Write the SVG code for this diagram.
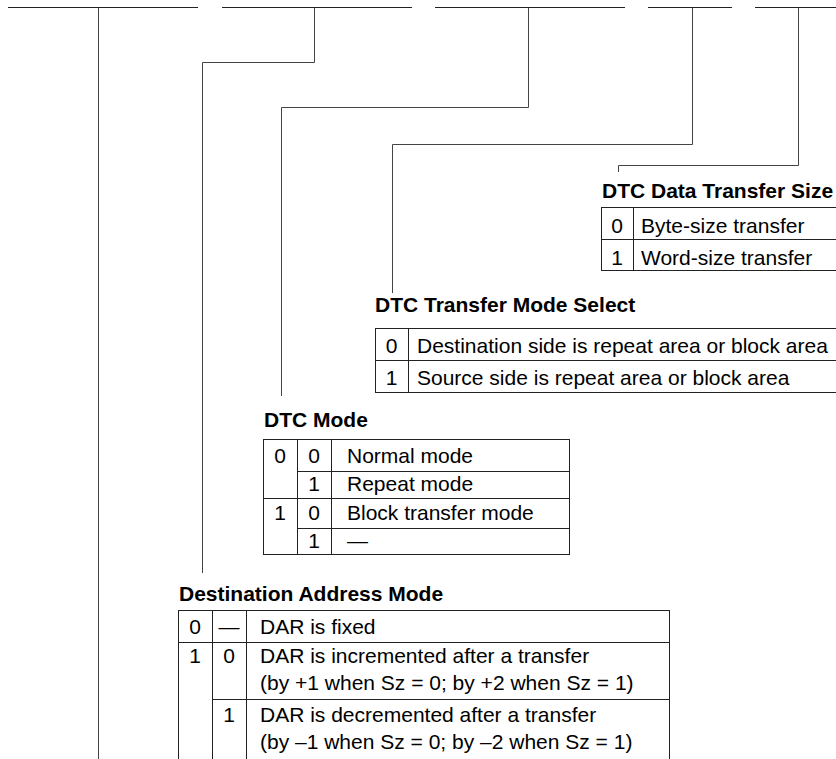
<svg xmlns="http://www.w3.org/2000/svg" width="836" height="759" viewBox="0 0 836 759">
<style>
.ln{stroke:#222;stroke-width:1;fill:none}
.cn{stroke:#444;stroke-width:1;fill:none}
.t{font-family:"Liberation Sans",Arial,sans-serif;font-size:21px;fill:#000}
.b{font-family:"Liberation Sans",Arial,sans-serif;font-size:21px;font-weight:bold;fill:#000}
.c{text-anchor:middle}
</style>
<rect width="836" height="759" fill="#fff"/>
<g id="register-bits">
<path class="ln" d="M8 7.5H198M222 7.5H412M435 7.5H625M648 7.5H732M755 7.5H836"/>
</g>
<g id="connectors">
<path class="cn" d="M98.5 8V759"/>
<path class="cn" d="M314.5 8V62.5H202.5V573"/>
<path class="cn" d="M528.5 8V107.5H281.5V396"/>
<path class="cn" d="M692.5 8V144.5H392.5V293"/>
<path class="cn" d="M798.5 8V165.5H618.5V172"/>
</g>
<g id="dtc-data-transfer-size">
<text class="b" x="602" y="198">DTC Data Transfer Size</text>
<path class="ln" d="M601 207.5H836M601 239.5H836M601 270.5H836M601.5 207V271M633.5 207V271"/>
<text class="t c" x="617" y="233">0</text>
<text class="t" x="641" y="233">Byte-size transfer</text>
<text class="t c" x="617" y="265">1</text>
<text class="t" x="641" y="265">Word-size transfer</text>
</g>
<g id="dtc-transfer-mode-select">
<text class="b" x="375" y="312">DTC Transfer Mode Select</text>
<path class="ln" d="M375 328.5H836M375 360.5H836M375 392.5H836M375.5 328V393M408.5 328V393"/>
<text class="t c" x="391.5" y="353">0</text>
<text class="t" x="417" y="353">Destination side is repeat area or block area</text>
<text class="t c" x="391.5" y="385">1</text>
<text class="t" x="417" y="385">Source side is repeat area or block area</text>
</g>
<g id="dtc-mode">
<text class="b" x="264" y="427">DTC Mode</text>
<path class="ln" d="M263 439.5H570M297 471.5H570M263 498.5H570M297 528.5H570M263 554.5H570M263.5 439V555M297.5 439V555M331.5 439V555M569.5 439V555"/>
<text class="t c" x="280" y="463">0</text>
<text class="t c" x="314" y="463">0</text>
<text class="t" x="347" y="463">Normal mode</text>
<text class="t c" x="314" y="491">1</text>
<text class="t" x="347" y="491">Repeat mode</text>
<text class="t c" x="280" y="520">1</text>
<text class="t c" x="314" y="520">0</text>
<text class="t" x="347" y="520">Block transfer mode</text>
<text class="t c" x="314" y="548">1</text>
<text class="t" x="347" y="548">—</text>
</g>
<g id="destination-address-mode">
<text class="b" x="179" y="601">Destination Address Mode</text>
<path class="ln" d="M178 610.5H670M178 642.5H670M212 699.5H670M178.5 610V759M212.5 610V759M246.5 610V759M669.5 610V759"/>
<text class="t c" x="195" y="634">0</text>
<text class="t c" x="229" y="634">—</text>
<text class="t" x="260" y="634">DAR is fixed</text>
<text class="t c" x="195" y="663">1</text>
<text class="t c" x="229" y="663">0</text>
<text class="t" x="260" y="663">DAR is incremented after a transfer</text>
<text class="t" x="260" y="690">(by +1 when Sz = 0; by +2 when Sz = 1)</text>
<text class="t c" x="229" y="722">1</text>
<text class="t" x="260" y="722">DAR is decremented after a transfer</text>
<text class="t" x="260" y="749">(by –1 when Sz = 0; by –2 when Sz = 1)</text>
</g>
</svg>
